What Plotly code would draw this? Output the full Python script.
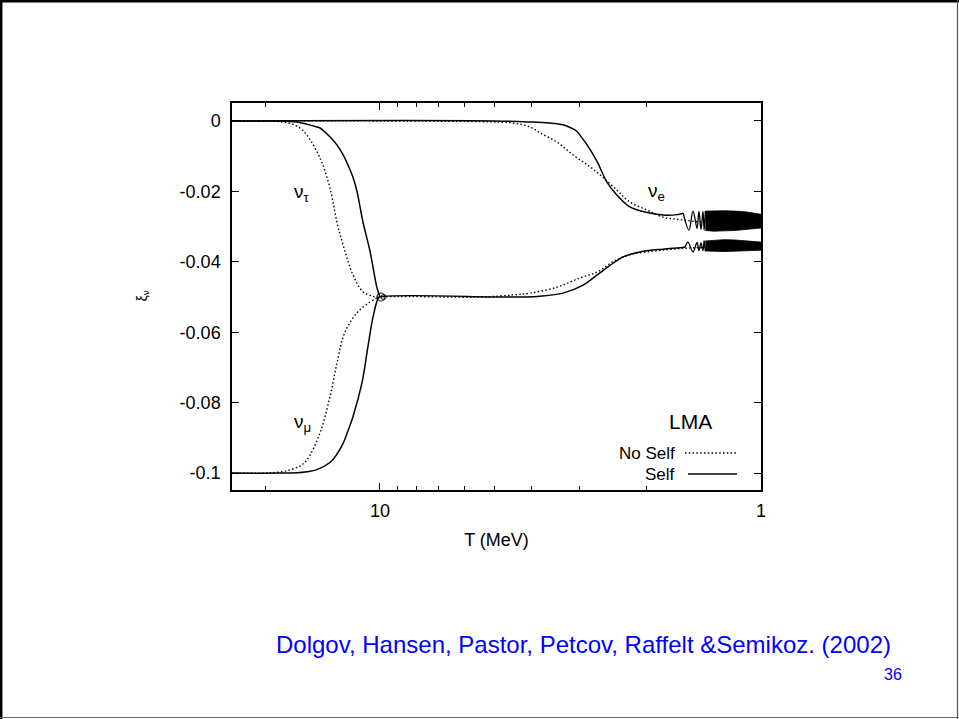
import math
import plotly.graph_objects as go

# ---------------- data ----------------
# nu_tau (until the crossing at T = 10 MeV)
tau_self_T = [24.5, 19.0, 17.5, 16.51, 15.55, 14.63, 14.37, 13.53, 12.97, 12.51, 12.13, 11.77, 11.49,
              11.08, 10.62, 10.18, 10.0]
tau_self_v = [0.0, 0.0, -0.0001, -0.0003, -0.0009, -0.0017, -0.002, -0.0045, -0.0068, -0.0095, -0.0125,
              -0.016, -0.020, -0.0287, -0.037, -0.0474, -0.050]
tau_nos_T = [24.5, 20.0, 19.1, 18.3, 17.23, 16.22, 15.55, 14.37, 13.53, 12.97, 12.51, 11.77, 11.08, 10.5,
             10.12, 10.0]
tau_nos_v = [0.0, 0.0, 0.0, -0.0002, -0.0007, -0.002, -0.004, -0.0105, -0.019, -0.0287, -0.035, -0.0437,
             -0.0485, -0.0497, -0.0500, -0.050]

# nu_mu (whole range; identical to nu_tau below 10 MeV)
mu_self_T = [24.5, 18.3, 16.51, 15.55, 14.63, 13.53, 13.0, 12.51, 12.13, 11.77, 11.15, 10.75, 10.43,
             10.12, 10.0, 4.84, 4.2, 3.80, 3.31, 2.93, 2.69, 2.49, 2.30, 2.08, 1.81, 1.63, 1.58]
mu_self_v = [-0.1, -0.1, -0.0999, -0.0996, -0.0990, -0.0970, -0.0948, -0.0917, -0.088, -0.084, -0.0744,
             -0.064, -0.0557, -0.0505, -0.050, -0.050, -0.0500, -0.0498, -0.0489, -0.0466, -0.0437, -0.041,
             -0.0386, -0.0372, -0.0364, -0.036, -0.0358]
mu_wig_T = [1.58, 1.555, 1.508, 1.472, 1.455, 1.437, 1.42, 1.41, 1.40]
mu_wig_v = [-0.0358, -0.0344, -0.0372, -0.0345, -0.0368, -0.0346, -0.0368, -0.0340, -0.0370]
mu_nos_T = [24.5, 20.5, 19.1, 17.54, 16.22, 15.55, 14.37, 13.53, 12.97, 12.36, 11.49, 10.62, 10.18, 10.0,
            5.47, 4.48, 4.04, 3.43, 2.99, 2.69, 2.45, 2.21, 1.92, 1.70, 1.5, 1.0]
mu_nos_v = [-0.1, -0.1, -0.0999, -0.0993, -0.098, -0.0963, -0.0886, -0.0784, -0.0688, -0.060, -0.0545,
            -0.0514, -0.0503, -0.050, -0.0500, -0.0494, -0.0489, -0.0472, -0.0446, -0.0429, -0.040, -0.038,
            -0.037, -0.0364, -0.0360, -0.0357]

# nu_e
e_self_T = [24.5, 5.0, 4.04, 3.6, 3.31, 3.15, 3.04, 2.95, 2.86, 2.69, 2.54, 2.39, 2.21, 1.99, 1.81, 1.66,
            1.60]
e_self_v = [0.0, 0.0, -0.0003, -0.0006, -0.0011, -0.002, -0.003, -0.0048, -0.0068, -0.0116, -0.0173, -0.021,
            -0.0244, -0.026, -0.0267, -0.0266, -0.0262]
e_wig_T = [1.60, 1.546, 1.508, 1.472, 1.455, 1.437, 1.42, 1.41, 1.40]
e_wig_v = [-0.0262, -0.031, -0.0256, -0.0305, -0.0257, -0.0308, -0.0257, -0.0310, -0.0256]
e_nos_T = [24.5, 5.47, 4.48, 4.04, 3.80, 3.43, 3.11, 2.81, 2.60, 2.39, 2.21, 1.99, 1.81, 1.63, 1.4, 1.0]
e_nos_v = [0.0, -0.0002, -0.0006, -0.0017, -0.0034, -0.006, -0.0097, -0.013, -0.016, -0.0196, -0.023,
           -0.0253, -0.0273, -0.028, -0.0288, -0.029]

# envelopes of the fast oscillations (Self) at low T
band_T = [1.40, 1.33, 1.25, 1.17, 1.10, 1.04, 1.0]
e_band_hi = [-0.0256, -0.0255, -0.0255, -0.0256, -0.0258, -0.0262, -0.0265]
e_band_lo = [-0.0311, -0.0313, -0.0312, -0.0311, -0.0309, -0.0306, -0.0304]
mu_band_hi = [-0.0341, -0.0339, -0.0337, -0.0338, -0.0340, -0.0342, -0.0344]
mu_band_lo = [-0.0369, -0.0370, -0.0371, -0.0370, -0.0369, -0.0368, -0.0367]

# small loop at the crossing point
loop_T = [9.95, 9.78]
loop_v = [-0.050, -0.050]

x_ticks = [1, 10]
x_minor = [2, 3, 4, 5, 6, 7, 8, 9, 20]
y_ticks = [0, -0.02, -0.04, -0.06, -0.08, -0.1]
y_ticktext = ["0", "-0.02", "-0.04", "-0.06", "-0.08", "-0.1"]

# ---------------- figure ----------------
FONT = "Liberation Sans, Arial, Helvetica, sans-serif"
W, H = 959, 719
L, R, T, B = 232, 761, 103, 490  # plot area in pixels


def px(x):
    return (x - L) / (R - L)


def py(y):
    return (B - y) / (B - T)


fig = go.Figure()
DOTS = "1.5px,2.3px"
dot = dict(color="black", width=1.4, dash=DOTS)
sol = dict(color="black", width=1.5)

fig.add_trace(go.Scatter(x=tau_nos_T, y=tau_nos_v, mode="lines", line=dot, line_shape="spline"))
fig.add_trace(go.Scatter(x=mu_nos_T, y=mu_nos_v, mode="lines", line=dot, line_shape="spline"))
fig.add_trace(go.Scatter(x=e_nos_T, y=e_nos_v, mode="lines", line=dot, line_shape="spline"))
fig.add_trace(go.Scatter(x=tau_self_T, y=tau_self_v, mode="lines", line=sol, line_shape="spline"))
fig.add_trace(go.Scatter(x=mu_self_T, y=mu_self_v, mode="lines", line=sol, line_shape="spline"))
fig.add_trace(go.Scatter(x=e_self_T, y=e_self_v, mode="lines", line=sol, line_shape="spline"))
fig.add_trace(go.Scatter(x=mu_wig_T, y=mu_wig_v, mode="lines", line=dict(color="black", width=1.3),
                         line_shape="spline"))
fig.add_trace(go.Scatter(x=e_wig_T, y=e_wig_v, mode="lines", line=dict(color="black", width=1.3),
                         line_shape="spline"))
for hi, lo in ((e_band_hi, e_band_lo), (mu_band_hi, mu_band_lo)):
    fig.add_trace(go.Scatter(x=band_T + band_T[::-1], y=hi + lo[::-1], mode="lines",
                             fill="toself", fillcolor="black", line=dict(color="black", width=0.8)))
fig.add_trace(go.Scatter(x=loop_T, y=loop_v, mode="markers",
                         marker=dict(symbol="circle-open", size=[8, 5], color="black",
                                     line=dict(width=1.2, color="black"))))

axis_common = dict(showgrid=False, zeroline=False, showline=True, linecolor="black", linewidth=1.5,
                   mirror="ticks", ticks="inside", tickcolor="black", tickwidth=1.2, ticklen=7,
                   tickfont=dict(family=FONT, size=18, color="black"))

fig.update_xaxes(type="log", range=[math.log10(24.45), 0], tickmode="array", tickvals=x_ticks,
                 ticktext=[str(v) for v in x_ticks], ticklabelstandoff=4,
                 minor=dict(tickmode="array", tickvals=x_minor, ticks="inside", ticklen=4,
                            tickcolor="black", tickwidth=1.2, showgrid=False),
                 title=dict(text="T (MeV)", font=dict(family=FONT, size=18, color="black"), standoff=13),
                 **axis_common)
fig.update_yaxes(range=[-0.1048, 0.0051], tickmode="array", tickvals=y_ticks, ticktext=y_ticktext,
                 ticklabelstandoff=6, **axis_common)

ann = []
tf = dict(family=FONT, color="black")
ann.append(dict(x=px(142), y=0.5, text="ξ<sub>ν</sub>", textangle=-90, font=dict(family=FONT, size=14, color="black")))
ann.append(dict(x=px(302), y=py(193), text="ν<sub>τ</sub>", font=dict(tf, size=19)))
ann.append(dict(x=px(302), y=py(423), text="ν<sub>μ</sub>", font=dict(tf, size=19)))
ann.append(dict(x=px(656), y=py(192), text="ν<sub>e</sub>", font=dict(tf, size=19)))
ann.append(dict(x=px(690), y=py(421), text="LMA", font=dict(tf, size=21)))
ann.append(dict(x=px(677), y=py(453), text="No Self", xanchor="right", font=dict(tf, size=17)))
ann.append(dict(x=px(677), y=py(474), text="Self", xanchor="right", font=dict(tf, size=17)))
ann.append(dict(x=px(583.5), y=py(644), text="Dolgov, Hansen, Pastor, Petcov, Raffelt &amp;Semikoz. (2002)",
                font=dict(family=FONT, size=24, color="#0000ff")))
ann.append(dict(x=px(893), y=py(674), text="36", font=dict(family=FONT, size=16, color="#0000ff")))
for a in ann:
    a.setdefault("xanchor", "center")
    a.update(xref="paper", yref="paper", yanchor="middle", showarrow=False)

shapes = [
    # legend samples
    dict(type="line", xref="paper", yref="paper", x0=px(685), x1=px(736), y0=py(453), y1=py(453),
         line=dict(color="black", width=1.3, dash=DOTS)),
    dict(type="line", xref="paper", yref="paper", x0=px(688), x1=px(737), y0=py(474), y1=py(474),
         line=dict(color="black", width=1.5)),
    # slide frame
    dict(type="line", xref="paper", yref="paper", x0=px(0), x1=px(959), y0=py(1.2), y1=py(1.2),
         line=dict(color="black", width=2.5)),
    dict(type="line", xref="paper", yref="paper", x0=px(1.2), x1=px(1.2), y0=py(0), y1=py(719),
         line=dict(color="black", width=2.5)),
    dict(type="line", xref="paper", yref="paper", x0=px(957.5), x1=px(957.5), y0=py(0), y1=py(719),
         line=dict(color="#555555", width=1.2)),
    dict(type="line", xref="paper", yref="paper", x0=px(0), x1=px(959), y0=py(717.5), y1=py(717.5),
         line=dict(color="#666666", width=1.2)),
]

fig.update_layout(width=W, height=H, margin=dict(l=L, r=W - R, t=T, b=H - B),
                  paper_bgcolor="white", plot_bgcolor="white", showlegend=False,
                  annotations=ann, shapes=shapes, font=dict(family=FONT))

fig.write_html("out.html")
